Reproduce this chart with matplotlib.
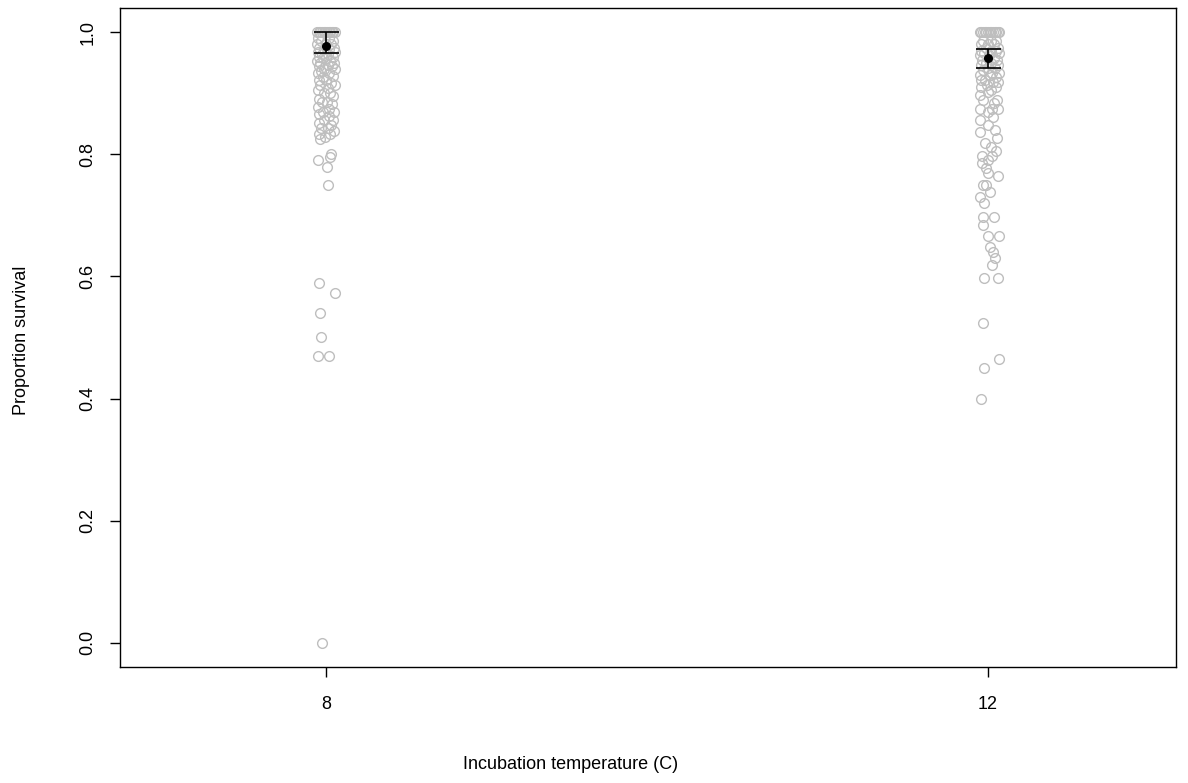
import matplotlib
matplotlib.use("Agg")
import matplotlib.pyplot as plt
import numpy as np

# temperatures on the x axis
temps = [8, 12]

# 8 C: proportion survival and horizontal jitter of each point
surv_8 = [1.0] * 12 + [
    0.990, 0.990, 0.985, 0.985, 0.980, 0.980, 0.980, 0.975, 0.975, 0.972, 0.972,
    0.968, 0.968, 0.965, 0.965, 0.960, 0.960, 0.957, 0.957, 0.953, 0.953, 0.950,
    0.950, 0.947, 0.944, 0.944, 0.940, 0.940, 0.937, 0.933, 0.933, 0.929, 0.926,
    0.922, 0.922, 0.917, 0.913, 0.913, 0.909, 0.905, 0.900, 0.900, 0.895, 0.890,
    0.886, 0.886, 0.882, 0.878, 0.875, 0.870, 0.870, 0.866, 0.862, 0.857, 0.857,
    0.852, 0.848, 0.843, 0.843, 0.838, 0.833, 0.833, 0.829, 0.825, 0.800, 0.795,
    0.790, 0.780, 0.750, 0.590, 0.573, 0.540, 0.500, 0.470, 0.470, 0.000]
jit_8 = [-0.055, -0.045, -0.035, -0.025, -0.015, -0.005, 0.005, 0.015, 0.025, 0.035,
         0.045, 0.055,
         -0.05, 0.02, -0.03, 0.045, -0.055, 0.0, 0.03, -0.04, 0.05, -0.015, 0.02,
         -0.05, 0.055, -0.025, 0.01, -0.045, 0.04, 0.0, -0.02, -0.055, 0.025, 0.05,
         -0.035, 0.01, -0.045, 0.035, -0.01, 0.055, -0.03, 0.02, -0.05, 0.045, -0.02,
         0.0, -0.045, 0.03, -0.035, 0.055, 0.01, -0.05, 0.025, -0.015, 0.045, -0.04,
         0.005, -0.025, 0.035, -0.05, 0.015, -0.02, 0.05, -0.04, 0.02, -0.01, 0.04,
         -0.045, 0.03, -0.03, 0.01, 0.05, -0.045, 0.025, -0.005, -0.035, 0.03, 0.025,
         -0.05, 0.005, 0.01, -0.04, 0.054, -0.035, -0.03, -0.048, 0.02, -0.024]

# 12 C
surv_12 = [1.0] * 13 + [
    0.985, 0.985, 0.985, 0.980, 0.980, 0.980, 0.975, 0.975, 0.970, 0.970, 0.970,
    0.966, 0.966, 0.962, 0.962, 0.958, 0.955, 0.955, 0.950, 0.950, 0.946, 0.946,
    0.942, 0.942, 0.938, 0.934, 0.934, 0.930, 0.930, 0.926, 0.922, 0.922, 0.918,
    0.918, 0.914, 0.910, 0.910, 0.906, 0.902, 0.897, 0.889, 0.889, 0.884, 0.875,
    0.875, 0.875, 0.870, 0.861, 0.856, 0.848, 0.840, 0.836, 0.826, 0.818, 0.812,
    0.805, 0.798, 0.798, 0.790, 0.785, 0.777, 0.770, 0.764, 0.749, 0.749, 0.738,
    0.730, 0.720, 0.698, 0.698, 0.684, 0.666, 0.666, 0.648, 0.640, 0.630, 0.618,
    0.598, 0.598, 0.523, 0.464, 0.450, 0.400]
jit_12 = [-0.05, -0.04, -0.03, -0.02, -0.01, 0.0, 0.01, 0.02, 0.03, 0.04, 0.05, 0.06,
          0.068,
          -0.03, 0.02, 0.05, -0.045, 0.0, 0.035, -0.015, 0.06, -0.04, 0.015, 0.045,
          -0.025, 0.065, 0.005, -0.05, 0.035, -0.035, 0.055, -0.01, 0.02, -0.045,
          0.06, 0.0, 0.04, -0.03, 0.025, 0.065, -0.05, 0.01, 0.045, -0.02, -0.04,
          0.03, 0.06, -0.005, -0.045, 0.05, 0.015, 0.0, -0.048, -0.03, 0.055, 0.035,
          -0.048, 0.025, 0.06, 0.0, 0.03, -0.048, 0.0, 0.04, -0.048, 0.055, -0.02,
          0.02, 0.045, -0.036, 0.025, 0.0, -0.036, -0.01, 0.0, 0.06, -0.03, -0.01,
          0.01, -0.048, -0.025, -0.03, 0.036, -0.03, 0.0, 0.066, 0.012, 0.03, 0.042,
          0.024, -0.024, 0.06, -0.03, 0.066, -0.024, -0.042]

# group means with upper / lower limits
means = [0.978, 0.957]
upper = [1.000, 0.972]
lower = [0.966, 0.941]

plt.rcParams['font.family'] = ['Liberation Sans', 'DejaVu Sans']

fig = plt.figure(figsize=(11.88, 7.83), dpi=100)
ax = fig.add_axes([0.101, 0.148, 0.889, 0.842])

for t, ys, js in [(8, surv_8, jit_8), (12, surv_12, jit_12)]:
    xs = t + np.array(js)
    ax.plot(xs, ys, linestyle='none', marker='o', markersize=7,
            markerfacecolor='none', markeredgecolor='#bebebe', markeredgewidth=1.0)

m = np.array(means)
err = [m - np.array(lower), np.array(upper) - m]
ax.errorbar(temps, means, yerr=err, fmt='o', color='black', markersize=5.5,
            capsize=9, elinewidth=1.2, capthick=1.2, zorder=5)

ax.set_xlim(6.755, 13.136)
ax.set_ylim(-0.04, 1.04)
ax.set_xticks(temps)
ax.set_xticklabels(['8', '12'])
ax.set_yticks([0.0, 0.2, 0.4, 0.6, 0.8, 1.0])
ax.set_yticklabels(['0.0', '0.2', '0.4', '0.6', '0.8', '1.0'], rotation=90, va='center')
ax.tick_params(direction='out', length=7, width=1, labelsize=13)
ax.tick_params(axis='x', pad=14)
ax.tick_params(axis='y', pad=10)
for s in ax.spines.values():
    s.set_linewidth(1)
    s.set_color('black')

fig.text(0.48, 0.023, 'Incubation temperature (C)', ha='center', va='center', fontsize=13)
fig.text(0.0185, 0.566, 'Proportion survival', ha='center', va='center', rotation=90, fontsize=13)

fig.savefig('out.png', dpi=100)
